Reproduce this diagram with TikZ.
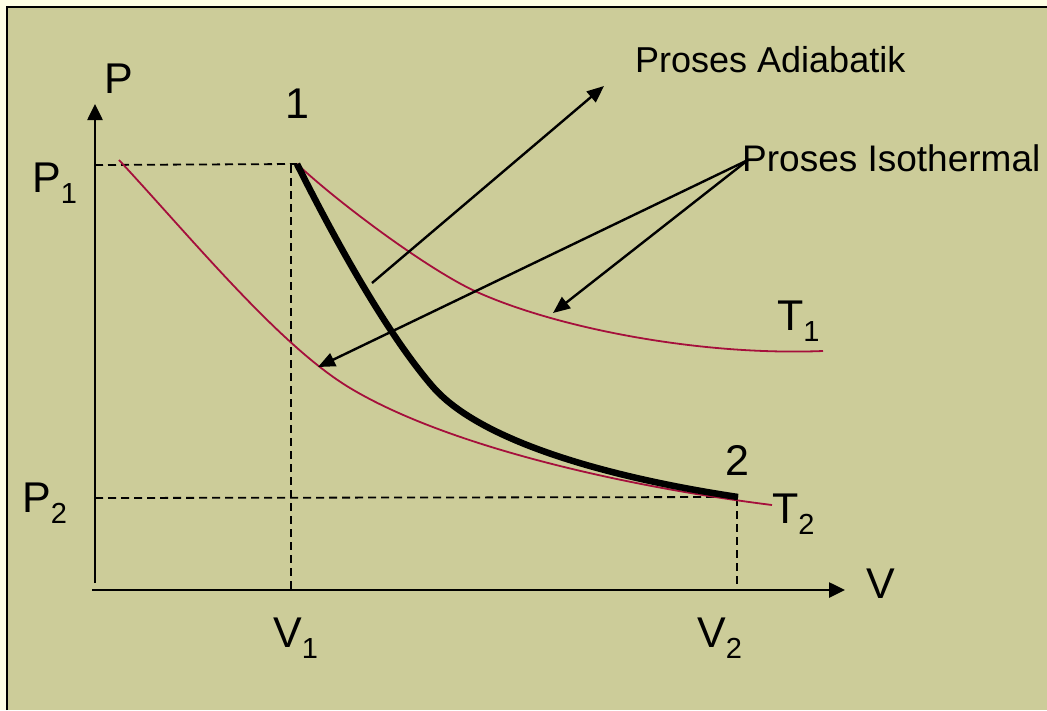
\documentclass[tikz,border=0pt]{standalone}
\usepackage{fontspec}
\setmainfont{Liberation Sans}
\usetikzlibrary{arrows.meta}
\definecolor{cream}{RGB}{255,255,229}
\definecolor{khaki}{RGB}{204,204,153}
\definecolor{isored}{RGB}{165,15,60}
\newcommand{\biglbl}{\fontsize{43}{48}\selectfont}
\newcommand{\mysub}[1]{\raisebox{-11pt}{\fontsize{29}{30}\selectfont #1}}
\begin{document}
\begin{tikzpicture}[x=1pt,y=-1pt,
  lbl/.style={inner sep=0pt,anchor=base west,font=\biglbl},
  note/.style={inner sep=0pt,anchor=base west,font=\fontsize{37}{40}\selectfont},
  axis/.style={line width=2.6pt,-{Triangle[length=16pt,width=15pt]}},
  guide/.style={line width=1.8pt,dash pattern=on 8pt off 5pt},
  pointer/.style={line width=2.4pt,-{Triangle[length=17pt,width=14pt]}},
  iso/.style={isored,line width=1.8pt},
  adia/.style={black,line width=6.5pt}]
\useasboundingbox (0,0) rectangle (1047,710);
\fill[cream] (0,0) rectangle (1047,710);
\fill[khaki] (6.5,6.5) rectangle (1047,710);
\draw[line width=2pt] (6.5,710) -- (6.5,6.5) -- (1047,6.5);

% coordinates
\coordinate (ytop) at (95,104);
\coordinate (yb) at (95,583);
\coordinate (xl) at (92,590);
\coordinate (xr) at (845,590);
\coordinate (p1) at (297,164);
\coordinate (p2) at (738,497);
\coordinate (P1y) at (95,165);
\coordinate (P2y) at (95,498);
\coordinate (V1top) at (291,165);
\coordinate (V1x) at (291,590);
\coordinate (V2x) at (737,590);
\coordinate (V2top) at (737,498);
\coordinate (adS) at (372,283);
\coordinate (adE) at (604,86);
\coordinate (isoS) at (748,160);
\coordinate (isoA) at (553,313);
\coordinate (isoB) at (318,367);
\coordinate (t1end) at (823,351);
\coordinate (t2start) at (119,160);
\coordinate (t2end) at (772,505);

% dashed guides
\draw[guide] (P1y) -- (p1);
\draw[guide] (V1top) -- (V1x);
\draw[guide] (P2y) -- (p2);
\draw[guide] (V2top) -- (V2x);

% axes
\draw[axis] (yb) -- (ytop);
\draw[axis] (xl) -- (xr);

% isotherms
\draw[iso] (p1) .. controls (342,206) and (432,272) .. (477,292)
  .. controls (557,328) and (700,356) .. (t1end);
\draw[iso] (t2start) .. controls (194,241) and (280,346) .. (350,388)
  .. controls (450,448) and (632,487.5) .. (t2end);

% adiabat
\draw[adia] (p1) .. controls (337,244) and (388,335) .. (433,387)
  .. controls (483,444) and (618,479) .. (p2);

% pointer arrows
\draw[pointer] (adS) -- (adE);
\draw[pointer] (isoS) -- (isoA);
\draw[pointer] (isoS) -- (isoB);

% labels
\node[lbl] (Plab) at (104,93) {P};
\node[lbl,anchor=base] (one) at (297,118) {1};
\node[lbl] (P1lab) at (32,192) {P\mysub{1}};
\node[lbl] (P2lab) at (22,512) {P\mysub{2}};
\node[lbl] (V1lab) at (273,647) {V\mysub{1}};
\node[lbl] (V2lab) at (697,647) {V\mysub{2}};
\node[lbl] (Vlab) at (866,598) {V};
\node[lbl,anchor=base] (two) at (737,475) {2};
\node[lbl] (T1lab) at (777,330) {T\mysub{1}};
\node[lbl] (T2lab) at (772,523) {T\mysub{2}};
\node[note] (isolab) at (742,171) {Proses Isothermal};
\node[note,font=\fontsize{36}{40}\selectfont] (adlab) at (635,72) {Proses Adiabatik};
\end{tikzpicture}
\end{document}
